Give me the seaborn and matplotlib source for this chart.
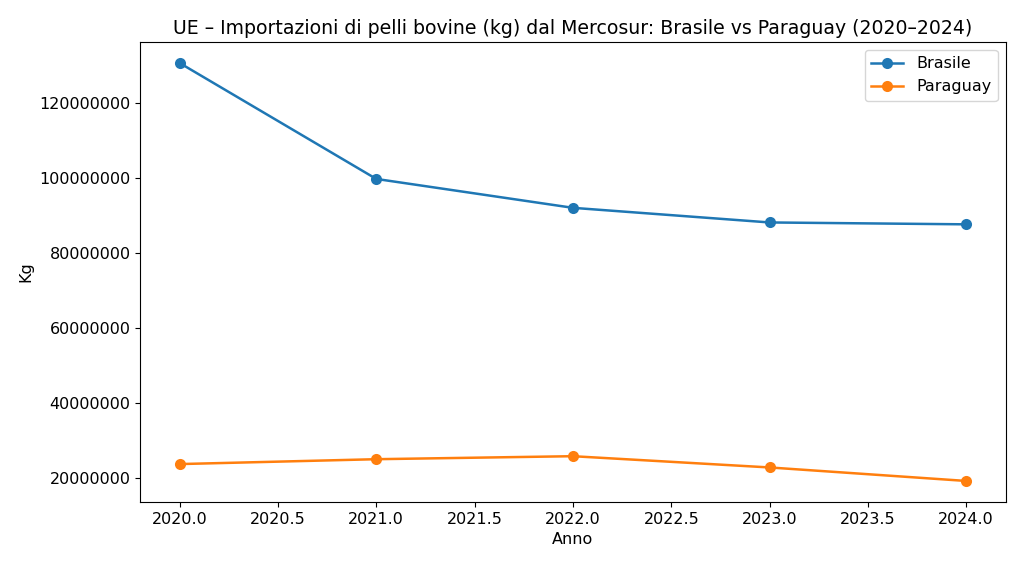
import matplotlib
matplotlib.use("Agg")
import matplotlib.pyplot as plt
import seaborn as sns
import pandas as pd
from matplotlib.ticker import ScalarFormatter

anni = [2020, 2021, 2022, 2023, 2024]
brasile = [130600000, 99700000, 92000000, 88100000, 87600000]
paraguay = [23700000, 25000000, 25800000, 22800000, 19200000]

df = pd.DataFrame({
    "Anno": anni * 2,
    "Kg": brasile + paraguay,
    "Paese": ["Brasile"] * len(anni) + ["Paraguay"] * len(anni),
})

fig, ax = plt.subplots(figsize=(10.24, 5.69), dpi=100)
sns.lineplot(data=df, x="Anno", y="Kg", hue="Paese", marker="o", markersize=8,
             markeredgewidth=0, linewidth=1.8, palette=["#1f77b4", "#ff7f0e"], ax=ax)
fmt = ScalarFormatter(useOffset=False)
fmt.set_scientific(False)
ax.yaxis.set_major_formatter(fmt)
ax.xaxis.set_major_formatter(plt.FormatStrFormatter("%.1f"))
ax.tick_params(labelsize=11.5)
ax.set_title("UE – Importazioni di pelli bovine (kg) dal Mercosur: Brasile vs Paraguay (2020–2024)", fontsize=13.6)
ax.set_xlabel("Anno", fontsize=11.5)
ax.set_ylabel("Kg", fontsize=11.5)
ax.legend(title=None, loc="upper right", fontsize=11.5)
fig.subplots_adjust(left=0.137, right=0.982, top=0.926, bottom=0.118)
fig.savefig("out.png", dpi=100)
